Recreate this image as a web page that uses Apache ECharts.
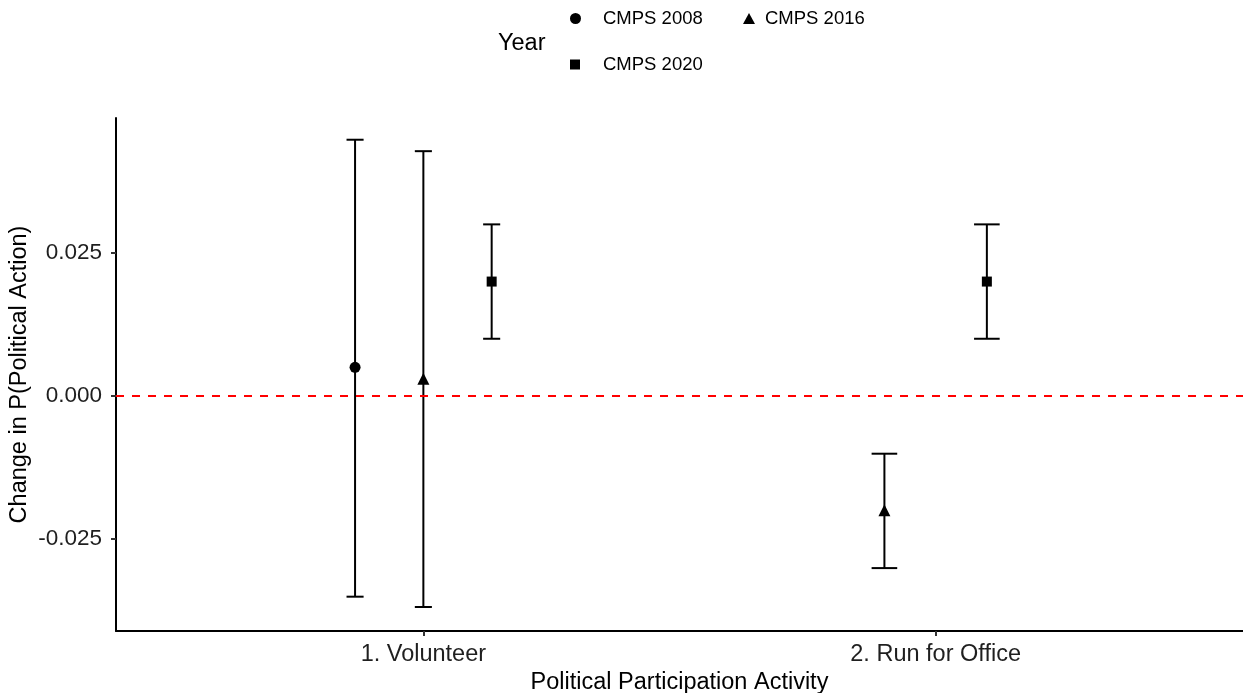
<!DOCTYPE html>
<html>
<head>
<meta charset="utf-8">
<script src="https://cdn.jsdelivr.net/npm/echarts@6/dist/echarts.min.js"></script>
<style>html,body{margin:0;padding:0;background:#fff;}#c{width:1243px;height:693px;}</style>
</head>
<body>
<div id="c"></div>
<script>
var categories = ["1. Volunteer", "2. Run for Office"];
var years = ["CMPS 2008", "CMPS 2016", "CMPS 2020"];
var yTicks = [-0.025, 0, 0.025];

var est2008 = [0.005, null];
var lo2008 = [-0.0351, null];
var hi2008 = [0.0448, null];

var est2016 = [0.003, -0.020];
var lo2016 = [-0.0369, -0.0301];
var hi2016 = [0.0428, -0.0101];

var est2020 = [0.020, 0.020];
var lo2020 = [0.010, 0.010];
var hi2020 = [0.030, 0.030];

var est = [est2008, est2016, est2020];
var lo = [lo2008, lo2016, lo2020];
var hi = [hi2008, hi2016, hi2020];
var symbols = ['circle', 'triangle', 'rect'];
var symSizes = [11, 12, 10];

var FONT = 'Liberation Sans, Arial, sans-serif';
var dodgeWidth = 0.4, barWidth = 0.1;

// dodge computations (in category units)
var pos = [], capHalf = [];
for (var s = 0; s < years.length; s++) { pos.push([]); capHalf.push([]); }
for (var c = 0; c < categories.length; c++) {
  var present = [];
  for (var s = 0; s < years.length; s++) if (est[s][c] !== null) present.push(s);
  var n = present.length;
  present.forEach(function (s, i) {
    pos[s][c] = (c + 1) - dodgeWidth / 2 + (i + 0.5) * dodgeWidth / n;
    capHalf[s][c] = barWidth / n / 2;
  });
}

var series = [];
for (var s = 0; s < years.length; s++) {
  var ebData = [], ptData = [];
  for (var c = 0; c < categories.length; c++) {
    if (est[s][c] === null) continue;
    ebData.push([pos[s][c], lo[s][c], hi[s][c], capHalf[s][c]]);
    ptData.push([pos[s][c], est[s][c]]);
  }
  series.push({
    type: 'custom',
    name: 'eb' + s,
    data: ebData,
    z: 3,
    encode: { x: 0, y: [1, 2] },
    renderItem: function (params, api) {
      var x = api.value(0), l = api.value(1), h = api.value(2), w = api.value(3);
      var pL = api.coord([x, l]), pH = api.coord([x, h]);
      var a = api.coord([x - w, h]), b = api.coord([x + w, h]);
      var a2 = api.coord([x - w, l]), b2 = api.coord([x + w, l]);
      var st = { stroke: '#000', lineWidth: 2 };
      return {
        type: 'group',
        children: [
          { type: 'line', shape: { x1: pL[0], y1: pL[1], x2: pH[0], y2: pH[1] }, style: st },
          { type: 'line', shape: { x1: a[0], y1: a[1], x2: b[0], y2: b[1] }, style: st },
          { type: 'line', shape: { x1: a2[0], y1: a2[1], x2: b2[0], y2: b2[1] }, style: st }
        ]
      };
    }
  });
  series.push({
    type: 'scatter',
    name: years[s],
    data: ptData,
    symbol: symbols[s],
    symbolSize: symSizes[s],
    itemStyle: { color: '#000', opacity: 1 },
    z: 4
  });
}
// zero reference line
series.push({
  type: 'line',
  name: 'ref',
  data: [],
  markLine: {
    silent: true,
    symbol: 'none',
    label: { show: false },
    lineStyle: { color: '#ff0000', type: [8, 8], width: 2 },
    data: [{ yAxis: 0 }]
  }
});

var legText = { fontFamily: FONT, fontSize: 18.5, color: '#000' };

var chart = echarts.init(document.getElementById('c'));
chart.setOption({
  animation: false,
  backgroundColor: '#fff',
  textStyle: { fontFamily: FONT },
  title: {
    text: 'Year', left: 493, top: 27,
    textStyle: { fontFamily: FONT, fontSize: 23.5, fontWeight: 'normal', color: '#000' }
  },
  legend: [
    {
      data: [{ name: years[0], icon: 'circle', itemStyle: { color: '#000', opacity: 1 } }],
      left: 565, top: 4, itemWidth: 11, itemHeight: 11,
      selectedMode: false,
      textStyle: Object.assign({ padding: [0, 0, 0, 17] }, legText)
    },
    {
      data: [{ name: years[1], icon: 'triangle', itemStyle: { color: '#000', opacity: 1 } }],
      left: 738, top: 4, itemWidth: 12, itemHeight: 11,
      selectedMode: false,
      textStyle: Object.assign({ padding: [0, 0, 0, 5] }, legText)
    },
    {
      data: [{ name: years[2], icon: 'rect', itemStyle: { color: '#000', opacity: 1 } }],
      left: 565, top: 50, itemWidth: 10, itemHeight: 10,
      selectedMode: false,
      textStyle: Object.assign({ padding: [0, 0, 0, 18] }, legText)
    }
  ],
  grid: { left: 116, right: 0, top: 118, bottom: 62, containLabel: false, outerBoundsMode: 'none' },
  xAxis: {
    type: 'value', min: 0.4, max: 2.6,
    name: 'Political Participation Activity', nameLocation: 'middle', nameGap: 40,
    nameMoveOverlap: false,
    nameTextStyle: { fontFamily: FONT, fontSize: 23.5, color: '#000' },
    axisLine: { show: true, onZero: false, lineStyle: { color: '#000', width: 2 } },
    axisTick: { show: true, customValues: [1, 2], length: 5, lineStyle: { color: '#333', width: 2 } },
    axisLabel: {
      customValues: [1, 2], margin: 12,
      formatter: function (v) { return categories[Math.round(v) - 1] || ''; },
      fontFamily: FONT, fontSize: 23.5, color: '#1f1f1f'
    },
    splitLine: { show: false }
  },
  yAxis: {
    type: 'value', min: -0.0411, max: 0.0486,
    name: 'Change in P(Political Action)', nameLocation: 'middle', nameGap: 84,
    nameMoveOverlap: false,
    nameTextStyle: { fontFamily: FONT, fontSize: 23.5, color: '#000' },
    axisLine: { show: true, onZero: false, lineStyle: { color: '#000', width: 2 } },
    axisTick: { show: true, customValues: yTicks, length: 5, lineStyle: { color: '#333', width: 2 } },
    axisLabel: {
      customValues: yTicks, margin: 14,
      formatter: function (v) { return v.toFixed(3); },
      fontFamily: FONT, fontSize: 22.5, color: '#1f1f1f'
    },
    splitLine: { show: false }
  },
  series: series
});
</script>
</body>
</html>
